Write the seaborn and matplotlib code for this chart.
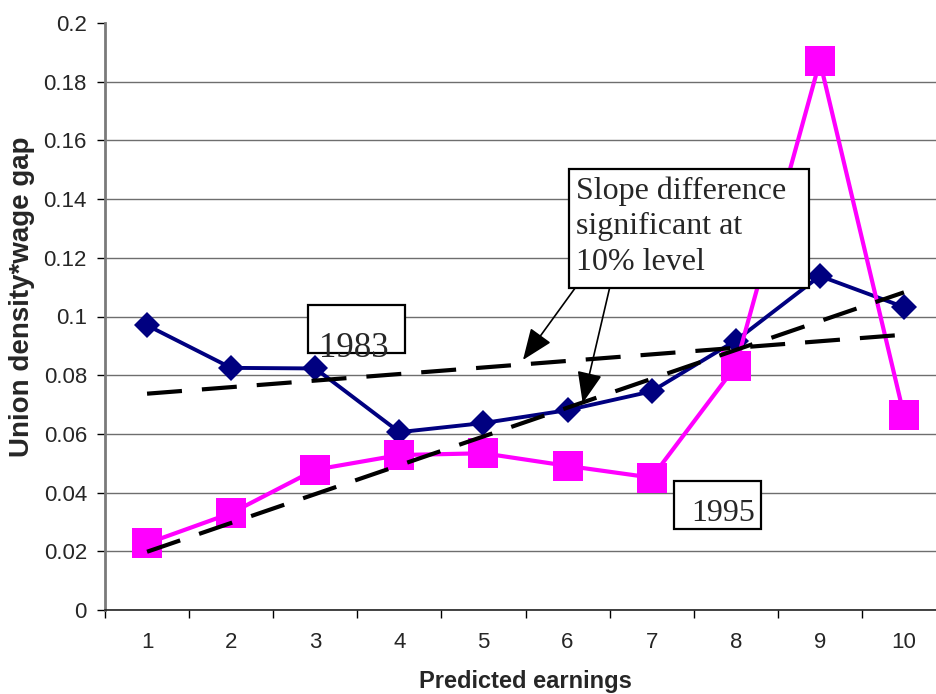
import numpy as np
import pandas as pd
import matplotlib
matplotlib.use('Agg')
import matplotlib.pyplot as plt
import matplotlib.patches as mpatches
import seaborn as sns

# data
earnings = [1, 2, 3, 4, 5, 6, 7, 8, 9, 10]
gap_1983 = [0.0970, 0.0825, 0.0823, 0.0606, 0.0637, 0.0681, 0.0745, 0.0918, 0.1138, 0.1032]
gap_1995 = [0.0227, 0.0330, 0.0478, 0.0528, 0.0534, 0.0491, 0.0451, 0.0831, 0.1870, 0.0664]
y_ticks = [0, 0.02, 0.04, 0.06, 0.08, 0.1, 0.12, 0.14, 0.16, 0.18, 0.2]
x_labels = ['1', '2', '3', '4', '5', '6', '7', '8', '9', '10']
note_text = 'Slope difference\nsignificant at\n10% level'

df = pd.DataFrame({'earnings': earnings, 'y1983': gap_1983, 'y1995': gap_1995})

sns.set_style('white')
plt.rcParams['font.family'] = ['Liberation Sans', 'DejaVu Sans']
serif = ['Liberation Serif', 'DejaVu Serif']

fig = plt.figure(figsize=(9.36, 6.94), dpi=100)
# category axis runs past the right edge of the picture, like the original
ax = fig.add_axes([105 / 936, 84 / 694, 841 / 936, 587 / 694])

sns.lineplot(data=df, x='earnings', y='y1983', color='#000080', lw=2.8,
             marker='D', markersize=13, markeredgewidth=0, ax=ax, zorder=3)
sns.lineplot(data=df, x='earnings', y='y1995', color='#FF00FF', lw=3,
             marker='s', markersize=21, markeredgewidth=0, ax=ax, zorder=3)

# linear trend lines
for col in ['y1983', 'y1995']:
    sns.regplot(data=df, x='earnings', y=col, scatter=False, ci=None, truncate=True,
                line_kws=dict(color='black', lw=3, dashes=(8.4, 4.8), zorder=4), ax=ax)

ax.set_xlim(0.5, 10.5)
ax.set_ylim(0, 0.2)
ax.set_yticks(y_ticks)
ax.set_yticklabels([f'{v:g}' for v in y_ticks])
ax.set_xticks(earnings)
ax.set_xticklabels(x_labels)
ax.set_xticks(np.arange(0.5, 11, 1), minor=True)

ax.grid(axis='y', color='#6e6e6e', lw=1)
ax.get_ygridlines()[-1].set_visible(False)
for s in ['top', 'right']:
    ax.spines[s].set_visible(False)
ax.spines['left'].set_color('#7a7a7a')
ax.spines['left'].set_linewidth(2)
ax.spines['bottom'].set_color('#222222')
ax.spines['bottom'].set_linewidth(1.2)

ax.tick_params(axis='y', left=True, length=6, width=1, color='black', labelsize=16, pad=7)
ax.tick_params(axis='x', which='major', bottom=True, length=0, pad=16, labelsize=16)
ax.tick_params(axis='x', which='minor', bottom=True, length=6, width=1, color='black')

ax.set_xlabel('Predicted earnings', fontsize=17, fontweight='bold', labelpad=12)
ax.set_ylabel('Union density*wage gap', fontsize=20, fontweight='bold')
ax.yaxis.set_label_coords(-0.083, 0.533)


def label_box(x0, y0, x1, y1, text, tx, ty, size, va='baseline'):
    rect = mpatches.Rectangle((x0, y0), x1 - x0, y1 - y0, transform=ax.transData,
                              facecolor='white', edgecolor='black', lw=1.6,
                              zorder=6, clip_on=False)
    ax.add_patch(rect)
    t = ax.text(tx, ty, text, family=serif, fontsize=size, va=va, ha='left',
                linespacing=1.3, zorder=7)
    t.set_clip_path(rect)


label_box(2.91, 0.0876, 4.07, 0.1039, '1983', 3.04, 0.0862, 25)
label_box(7.27, 0.0276, 8.30, 0.0440, '1995', 7.47, 0.0303, 23)
label_box(6.02, 0.1097, 8.87, 0.1503, note_text, 6.10, 0.1478, 23, va='top')

arrow = dict(arrowstyle='-|>,head_length=0.75,head_width=0.3', color='black',
             lw=1.2, mutation_scale=26, shrinkA=0, shrinkB=0)
ax.annotate('', xy=(5.47, 0.0852), xytext=(6.09, 0.1097), arrowprops=arrow, zorder=5)
ax.annotate('', xy=(6.18, 0.0705), xytext=(6.50, 0.1097), arrowprops=arrow, zorder=5)

fig.savefig('out.png', dpi=100)
